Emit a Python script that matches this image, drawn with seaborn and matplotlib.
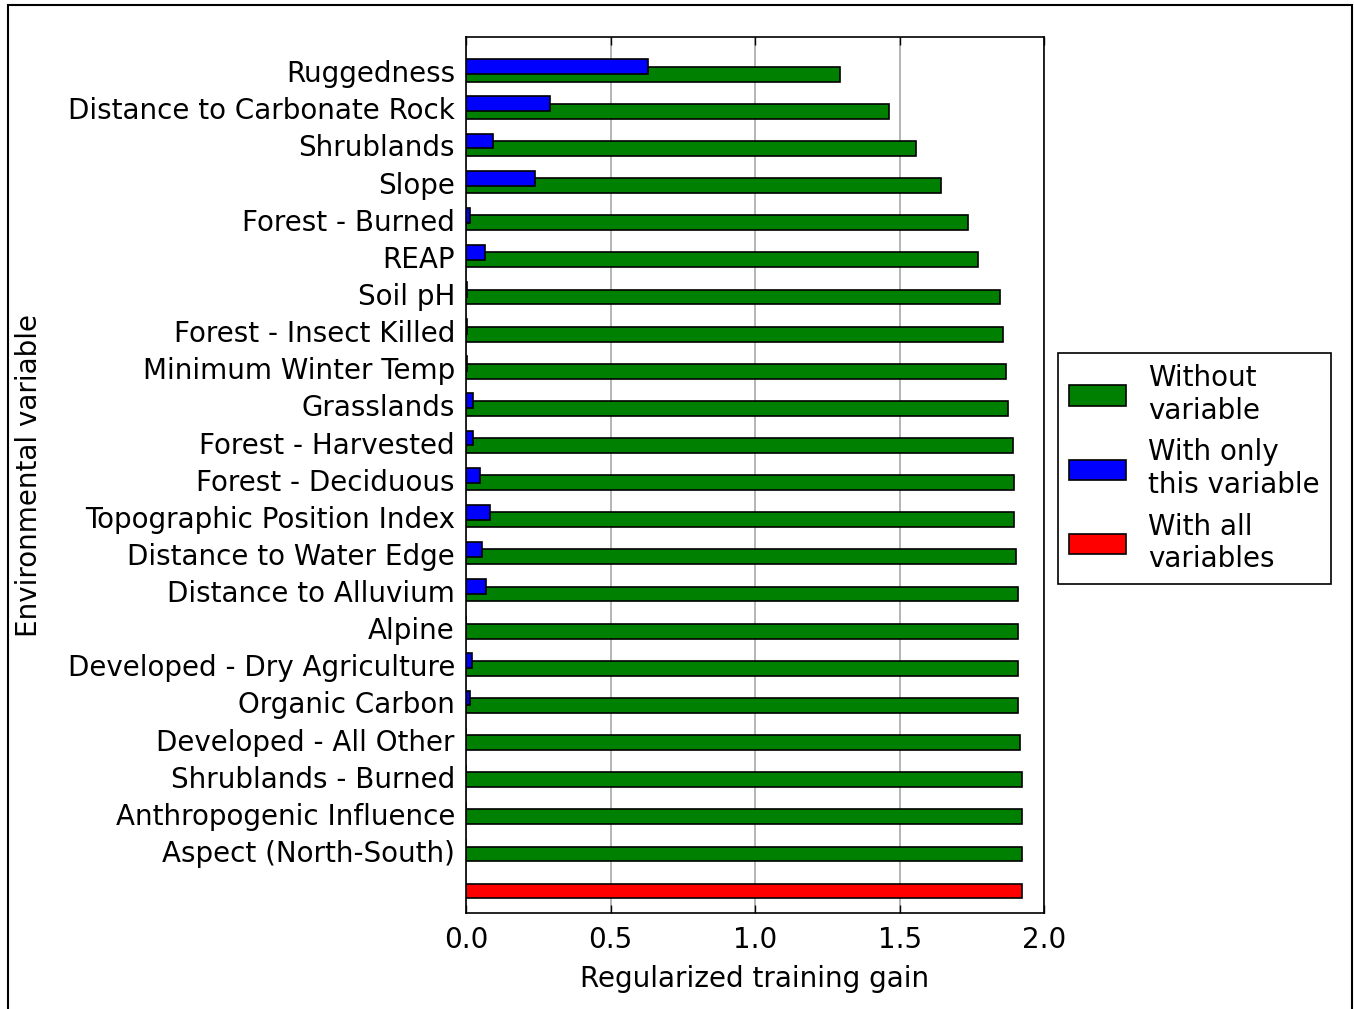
import pandas as pd
import seaborn as sns
import matplotlib.pyplot as plt
from matplotlib.patches import Patch, Rectangle

# Jackknife of regularized training gain (top to bottom as shown)
variables = ["Ruggedness", "Distance to Carbonate Rock", "Shrublands", "Slope",
             "Forest - Burned", "REAP", "Soil pH", "Forest - Insect Killed",
             "Minimum Winter Temp", "Grasslands", "Forest - Harvested",
             "Forest - Deciduous", "Topographic Position Index",
             "Distance to Water Edge", "Distance to Alluvium", "Alpine",
             "Developed - Dry Agriculture", "Organic Carbon",
             "Developed - All Other", "Shrublands - Burned",
             "Anthropogenic Influence", "Aspect (North-South)"]
without_var = [1.294, 1.463, 1.556, 1.642, 1.736, 1.770, 1.847, 1.858, 1.869,
               1.875, 1.893, 1.897, 1.897, 1.903, 1.910, 1.910, 1.910, 1.910,
               1.916, 1.922, 1.922, 1.922]
only_var = [0.628, 0.292, 0.093, 0.240, 0.014, 0.064, 0.003, 0.003, 0.003,
            0.024, 0.024, 0.048, 0.083, 0.054, 0.070, 0.0, 0.019, 0.014,
            0.0, 0.0, 0.0, 0.0]
all_vars = [1.922]

legend_labels = ["Without\nvariable", "With only\nthis variable", "With all\nvariables"]

sns.set_style("white")
plt.rcParams['font.family'] = ['DejaVu Sans']
plt.rcParams['font.size'] = 20
plt.rcParams['text.color'] = 'black'
plt.rcParams['axes.labelcolor'] = 'black'

# row positions: red bar at 0, variables stacked above it
n = len(variables)
pos = list(range(n, 0, -1))
df = pd.DataFrame({"variable": variables, "pos": pos,
                   "pos_only": [p + 0.2 for p in pos],
                   "without": without_var, "only": only_var})
df_all = pd.DataFrame({"pos": [0], "gain": all_vars})

fig = plt.figure(figsize=(13.54, 10.09), dpi=100)
ax = fig.add_axes([0.3442, 0.0948, 0.4269, 0.8685])

bar_kw = dict(orient="y", native_scale=True, width=0.4, saturation=1,
              edgecolor="black", linewidth=1.2, errorbar=None, ax=ax)
sns.barplot(data=df, x="without", y="pos", color="#008000", **bar_kw)
sns.barplot(data=df, x="only", y="pos_only", color="#0000ff", **bar_kw)
sns.barplot(data=df_all, x="gain", y="pos", color="#ff0000", **bar_kw)

ax.set_xlim(0, 2.0)
ax.set_ylim(-0.6, n + 1.0)
ax.set_xticks([0, 0.5, 1.0, 1.5, 2.0])
ax.set_xticklabels(["0.0", "0.5", "1.0", "1.5", "2.0"])
ax.set_yticks([p + 0.08 for p in pos])
ax.set_yticklabels(variables)

ax.grid(axis="x", color="#a8a8a8", linewidth=1.2)
ax.grid(axis="y", visible=False)
ax.set_axisbelow(True)
for s in ax.spines.values():
    s.set_color("black")
    s.set_linewidth(1.2)
ax.tick_params(axis="x", direction="in", top=True, bottom=True, length=6,
               width=1, pad=9, labelsize=20, colors="black")
ax.tick_params(axis="y", length=0, pad=8, labelsize=20, colors="black")

ax.set_xlabel("Regularized training gain", fontsize=20, labelpad=8)
ax.set_ylabel("Environmental variable", fontsize=20, labelpad=18)

handles = [Patch(facecolor=c, edgecolor="black", linewidth=1.2)
           for c in ["#008000", "#0000ff", "#ff0000"]]
leg = fig.legend(handles, legend_labels, loc="upper left",
                 bbox_to_anchor=(0.7814, 0.6501), borderaxespad=0,
                 fancybox=False, framealpha=1, edgecolor="black",
                 fontsize=20, handlelength=2.05, handleheight=0.75)
leg.get_frame().set_linewidth(1.2)
for t in leg.get_texts():
    t.set_color("black")

# outer frame around the figure
fig.add_artist(Rectangle((0.0059, -0.05), 0.9926, 1.045, fill=False,
                         edgecolor="black", linewidth=1.5,
                         transform=fig.transFigure, clip_on=False))

fig.savefig("out.png", dpi=100)
